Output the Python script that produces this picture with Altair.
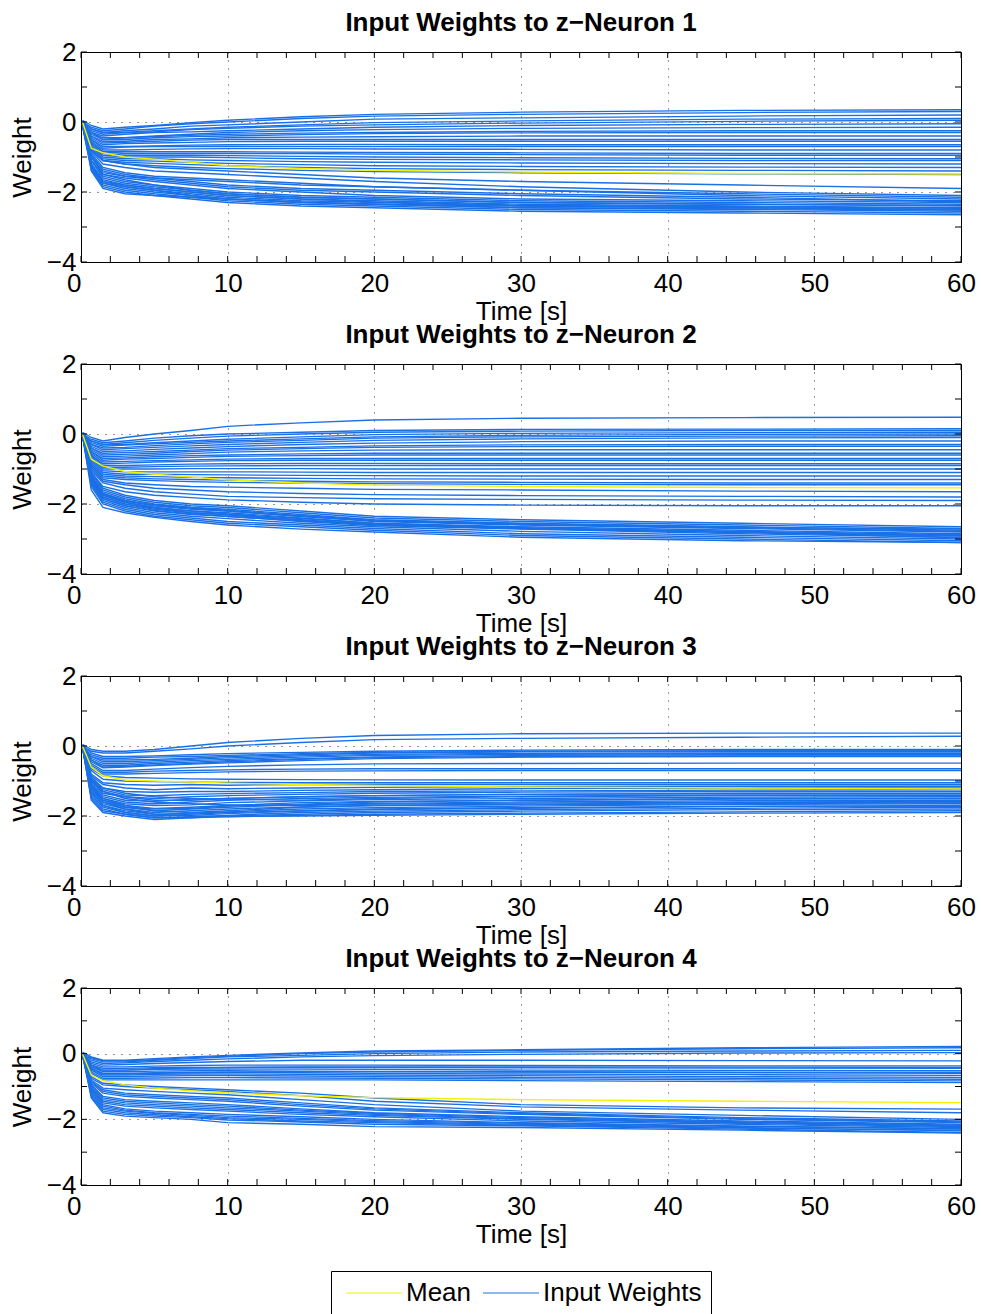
import altair as alt
import pandas as pd

# ---------------- data ----------------
T = [0.1, 0.7, 1.5, 3, 5, 7.5, 10, 15, 20, 30, 45, 60]
X_TICKS = list(range(0, 61, 2))
Y_TICKS = [2, 1, 0, -1, -2, -3, -4]
TITLES = ["Input Weights to z\u2212Neuron 1", "Input Weights to z\u2212Neuron 2",
          "Input Weights to z\u2212Neuron 3", "Input Weights to z\u2212Neuron 4"]

MEAN_1 = [0, -0.75, -0.88, -1.0, -1.06, -1.15, -1.25, -1.33, -1.38, -1.43, -1.47, -1.49]
MEAN_2 = [0, -0.72, -0.92, -1.07, -1.15, -1.23, -1.31, -1.4, -1.46, -1.5, -1.53, -1.54]
MEAN_3 = [0, -0.6, -0.85, -0.97, -1.0, -1.03, -1.06, -1.1, -1.13, -1.17, -1.2, -1.23]
MEAN_4 = [0, -0.65, -0.82, -0.95, -1.05, -1.13, -1.2, -1.28, -1.34, -1.4, -1.45, -1.49]

W1 = [
    [0.05, -0.1, -0.2, -0.15, -0.1, -0.02, 0.05, 0.15, 0.22, 0.28, 0.33, 0.35],
    [0.0, -0.15, -0.25, -0.2, -0.12, -0.05, 0.0, 0.1, 0.17, 0.22, 0.27, 0.3],
    [0.02, -0.2, -0.3, -0.25, -0.2, -0.12, -0.08, 0.0, 0.08, 0.12, 0.17, 0.2],
    [-0.05, -0.25, -0.35, -0.3, -0.25, -0.2, -0.15, -0.08, -0.02, 0.03, 0.08, 0.1],
    [0.0, -0.2, -0.3, -0.3, -0.28, -0.22, -0.18, -0.12, -0.08, -0.03, 0.02, 0.05],
    [-0.05, -0.3, -0.4, -0.35, -0.3, -0.28, -0.25, -0.2, -0.15, -0.1, -0.07, -0.05],
    [0.0, -0.3, -0.45, -0.45, -0.4, -0.35, -0.3, -0.25, -0.22, -0.18, -0.16, -0.15],
    [-0.1, -0.35, -0.5, -0.45, -0.42, -0.38, -0.35, -0.32, -0.3, -0.27, -0.25, -0.25],
    [0.0, -0.3, -0.5, -0.5, -0.45, -0.42, -0.4, -0.36, -0.33, -0.31, -0.3, -0.3],
    [-0.05, -0.4, -0.55, -0.55, -0.5, -0.48, -0.45, -0.43, -0.42, -0.4, -0.4, -0.4],
    [0.0, -0.4, -0.6, -0.58, -0.55, -0.52, -0.5, -0.5, -0.5, -0.5, -0.5, -0.5],
    [-0.1, -0.45, -0.65, -0.62, -0.6, -0.58, -0.56, -0.55, -0.55, -0.55, -0.55, -0.55],
    [0.0, -0.5, -0.7, -0.7, -0.68, -0.66, -0.65, -0.64, -0.64, -0.65, -0.65, -0.65],
    [-0.05, -0.5, -0.75, -0.72, -0.7, -0.7, -0.7, -0.7, -0.7, -0.7, -0.7, -0.7],
    [0.0, -0.55, -0.8, -0.8, -0.78, -0.77, -0.76, -0.76, -0.77, -0.78, -0.8, -0.8],
    [-0.05, -0.6, -0.85, -0.85, -0.85, -0.85, -0.85, -0.86, -0.87, -0.88, -0.9, -0.9],
    [0.0, -0.6, -0.85, -0.9, -0.9, -0.9, -0.9, -0.9, -0.92, -0.93, -0.95, -0.95],
    [-0.05, -0.65, -0.9, -0.95, -0.95, -0.95, -0.96, -0.98, -1.0, -1.02, -1.04, -1.05],
    [0.0, -0.7, -0.95, -1.0, -1.0, -1.0, -1.02, -1.05, -1.07, -1.08, -1.1, -1.1],
    [-0.05, -0.7, -1.0, -1.05, -1.05, -1.08, -1.1, -1.13, -1.15, -1.17, -1.19, -1.2],
    [0.0, -0.75, -1.05, -1.1, -1.12, -1.15, -1.18, -1.22, -1.25, -1.27, -1.29, -1.3],
    [-0.05, -0.8, -1.1, -1.15, -1.18, -1.22, -1.25, -1.3, -1.33, -1.36, -1.38, -1.4],
    [0.0, -0.8, -1.1, -1.2, -1.25, -1.3, -1.33, -1.38, -1.42, -1.45, -1.48, -1.5],
    [-0.1, -0.8, -1.1, -1.2, -1.3, -1.35, -1.4, -1.5, -1.6, -1.7, -1.8, -1.9],
    [-0.05, -0.85, -1.2, -1.3, -1.4, -1.45, -1.5, -1.6, -1.7, -1.85, -2.0, -2.1],
    [-0.1, -0.9, -1.3, -1.45, -1.55, -1.6, -1.65, -1.75, -1.85, -1.95, -2.1, -2.2],
    [0.0, -1.0, -1.4, -1.55, -1.65, -1.75, -1.85, -1.95, -2.0, -2.1, -2.2, -2.25],
    [-0.1, -1.0, -1.5, -1.6, -1.7, -1.8, -1.9, -2.0, -2.1, -2.2, -2.25, -2.3],
    [-0.05, -1.1, -1.55, -1.7, -1.8, -1.9, -2.0, -2.1, -2.15, -2.25, -2.3, -2.35],
    [-0.1, -1.1, -1.6, -1.75, -1.85, -1.95, -2.05, -2.15, -2.2, -2.3, -2.35, -2.4],
    [0.0, -1.2, -1.65, -1.8, -1.9, -2.0, -2.1, -2.2, -2.25, -2.35, -2.4, -2.45],
    [-0.1, -1.2, -1.7, -1.85, -1.95, -2.05, -2.15, -2.25, -2.3, -2.4, -2.45, -2.5],
    [-0.05, -1.25, -1.75, -1.9, -2.0, -2.1, -2.2, -2.3, -2.35, -2.45, -2.5, -2.55],
    [-0.1, -1.3, -1.8, -1.95, -2.05, -2.15, -2.25, -2.35, -2.4, -2.5, -2.55, -2.6],
    [0.0, -1.35, -1.85, -2.0, -2.1, -2.2, -2.3, -2.4, -2.45, -2.55, -2.6, -2.65],
    [-0.1, -1.1, -1.5, -1.65, -1.8, -1.95, -2.05, -2.15, -2.2, -2.3, -2.35, -2.38],
    [-0.05, -1.2, -1.7, -1.8, -1.9, -2.0, -2.1, -2.2, -2.28, -2.38, -2.42, -2.47],
    [-0.1, -1.3, -1.75, -1.85, -1.95, -2.1, -2.2, -2.28, -2.35, -2.45, -2.48, -2.52],
    [0.0, -0.95, -1.35, -1.5, -1.6, -1.7, -1.8, -1.9, -1.95, -2.05, -2.15, -2.28],
    [-0.1, -1.4, -1.9, -2.05, -2.1, -2.15, -2.2, -2.3, -2.35, -2.4, -2.45, -2.5],
    [-0.05, -1.0, -1.45, -1.55, -1.6, -1.65, -1.7, -1.8, -1.85, -1.95, -2.05, -2.15],
]

W2 = [
    [0.05, -0.1, -0.2, -0.1, 0.0, 0.1, 0.22, 0.32, 0.4, 0.45, 0.47, 0.48],
    [0.0, -0.15, -0.25, -0.2, -0.12, -0.05, 0.0, 0.05, 0.1, 0.13, 0.14, 0.15],
    [0.0, -0.2, -0.3, -0.25, -0.18, -0.12, -0.06, 0.0, 0.05, 0.08, 0.1, 0.1],
    [-0.05, -0.2, -0.3, -0.3, -0.25, -0.2, -0.15, -0.08, -0.02, 0.02, 0.04, 0.05],
    [0.0, -0.25, -0.35, -0.32, -0.28, -0.24, -0.2, -0.14, -0.08, -0.04, -0.01, 0.0],
    [-0.05, -0.3, -0.4, -0.38, -0.33, -0.28, -0.24, -0.18, -0.12, -0.08, -0.06, -0.05],
    [0.0, -0.3, -0.45, -0.42, -0.38, -0.34, -0.3, -0.24, -0.18, -0.14, -0.11, -0.1],
    [-0.05, -0.35, -0.5, -0.48, -0.44, -0.4, -0.36, -0.3, -0.26, -0.22, -0.2, -0.2],
    [0.0, -0.4, -0.55, -0.53, -0.5, -0.46, -0.42, -0.38, -0.34, -0.31, -0.3, -0.3],
    [-0.05, -0.4, -0.6, -0.58, -0.55, -0.5, -0.46, -0.42, -0.38, -0.36, -0.35, -0.35],
    [0.0, -0.45, -0.65, -0.63, -0.6, -0.56, -0.52, -0.48, -0.46, -0.45, -0.45, -0.45],
    [-0.05, -0.5, -0.7, -0.68, -0.65, -0.62, -0.6, -0.57, -0.55, -0.55, -0.55, -0.55],
    [0.0, -0.5, -0.75, -0.72, -0.7, -0.67, -0.64, -0.62, -0.6, -0.6, -0.6, -0.6],
    [-0.05, -0.55, -0.8, -0.78, -0.76, -0.74, -0.72, -0.7, -0.7, -0.7, -0.7, -0.7],
    [0.0, -0.6, -0.85, -0.83, -0.8, -0.78, -0.76, -0.75, -0.75, -0.75, -0.75, -0.75],
    [-0.05, -0.6, -0.9, -0.9, -0.88, -0.86, -0.85, -0.84, -0.84, -0.85, -0.85, -0.85],
    [0.0, -0.65, -0.95, -0.95, -0.93, -0.92, -0.91, -0.9, -0.9, -0.9, -0.9, -0.9],
    [-0.05, -0.7, -1.0, -1.0, -1.0, -0.99, -0.99, -0.99, -1.0, -1.0, -1.0, -1.0],
    [0.0, -0.75, -1.05, -1.08, -1.08, -1.08, -1.08, -1.09, -1.1, -1.1, -1.1, -1.1],
    [-0.05, -0.8, -1.1, -1.15, -1.15, -1.16, -1.17, -1.18, -1.19, -1.2, -1.2, -1.2],
    [0.0, -0.85, -1.15, -1.2, -1.22, -1.24, -1.25, -1.27, -1.28, -1.29, -1.3, -1.3],
    [-0.05, -0.9, -1.2, -1.25, -1.28, -1.3, -1.32, -1.35, -1.37, -1.38, -1.4, -1.4],
    [0.0, -0.9, -1.25, -1.3, -1.33, -1.36, -1.38, -1.4, -1.42, -1.44, -1.45, -1.45],
    [-0.05, -0.95, -1.3, -1.4, -1.45, -1.5, -1.52, -1.55, -1.58, -1.6, -1.63, -1.65],
    [0.0, -1.0, -1.35, -1.45, -1.55, -1.6, -1.65, -1.7, -1.73, -1.76, -1.78, -1.8],
    [-0.05, -1.05, -1.4, -1.55, -1.65, -1.72, -1.78, -1.82, -1.85, -1.87, -1.89, -1.9],
    [0.0, -1.1, -1.5, -1.65, -1.75, -1.82, -1.88, -1.95, -2.0, -2.03, -2.05, -2.05],
    [-0.05, -1.1, -1.55, -1.75, -1.9, -2.0, -2.05, -2.2, -2.35, -2.45, -2.55, -2.65],
    [0.0, -1.15, -1.6, -1.8, -1.95, -2.05, -2.1, -2.25, -2.4, -2.5, -2.6, -2.7],
    [-0.05, -1.2, -1.65, -1.85, -2.0, -2.1, -2.15, -2.3, -2.45, -2.55, -2.65, -2.75],
    [0.0, -1.2, -1.7, -1.9, -2.05, -2.15, -2.2, -2.35, -2.5, -2.6, -2.7, -2.8],
    [-0.05, -1.25, -1.75, -1.95, -2.1, -2.2, -2.25, -2.4, -2.55, -2.65, -2.75, -2.85],
    [0.0, -1.3, -1.8, -2.0, -2.15, -2.25, -2.3, -2.45, -2.6, -2.7, -2.8, -2.9],
    [-0.05, -1.35, -1.85, -2.05, -2.2, -2.3, -2.35, -2.5, -2.62, -2.72, -2.85, -2.95],
    [0.0, -1.4, -1.9, -2.1, -2.25, -2.35, -2.42, -2.55, -2.65, -2.78, -2.9, -3.0],
    [-0.05, -1.45, -1.95, -2.15, -2.3, -2.4, -2.5, -2.6, -2.7, -2.85, -2.95, -3.05],
    [0.0, -1.5, -2.0, -2.2, -2.35, -2.45, -2.55, -2.65, -2.75, -2.9, -3.0, -3.1],
    [-0.05, -1.6, -2.1, -2.25, -2.38, -2.5, -2.6, -2.72, -2.8, -2.95, -3.05, -3.1],
    [0.0, -1.3, -1.75, -1.95, -2.1, -2.2, -2.28, -2.42, -2.55, -2.68, -2.78, -2.88],
    [-0.05, -1.2, -1.7, -1.9, -2.05, -2.12, -2.2, -2.36, -2.48, -2.58, -2.68, -2.78],
    [0.0, -1.4, -1.85, -2.05, -2.18, -2.28, -2.36, -2.48, -2.58, -2.7, -2.82, -2.92],
    [-0.05, -1.25, -1.72, -1.92, -2.02, -2.1, -2.18, -2.33, -2.46, -2.56, -2.66, -2.72],
    [0.0, -1.35, -1.8, -2.0, -2.12, -2.25, -2.32, -2.46, -2.57, -2.68, -2.8, -2.97],
]

W3 = [
    [0.05, -0.1, -0.15, -0.15, -0.1, 0.0, 0.1, 0.22, 0.3, 0.35, 0.37, 0.37],
    [0.0, -0.15, -0.2, -0.2, -0.15, -0.08, 0.0, 0.1, 0.18, 0.22, 0.25, 0.28],
    [0.0, -0.2, -0.3, -0.3, -0.28, -0.25, -0.22, -0.18, -0.15, -0.12, -0.1, -0.1],
    [-0.05, -0.25, -0.35, -0.35, -0.32, -0.3, -0.27, -0.22, -0.18, -0.15, -0.13, -0.13],
    [0.0, -0.3, -0.4, -0.4, -0.38, -0.35, -0.3, -0.25, -0.2, -0.17, -0.16, -0.16],
    [-0.05, -0.3, -0.45, -0.45, -0.42, -0.38, -0.34, -0.28, -0.24, -0.21, -0.2, -0.2],
    [0.0, -0.35, -0.5, -0.5, -0.46, -0.42, -0.38, -0.32, -0.27, -0.24, -0.22, -0.22],
    [-0.05, -0.4, -0.55, -0.55, -0.5, -0.46, -0.42, -0.36, -0.31, -0.27, -0.25, -0.25],
    [0.0, -0.4, -0.6, -0.58, -0.54, -0.5, -0.45, -0.38, -0.33, -0.3, -0.28, -0.28],
    [-0.05, -0.45, -0.62, -0.6, -0.56, -0.52, -0.48, -0.42, -0.36, -0.32, -0.3, -0.3],
    [0.0, -0.5, -0.7, -0.7, -0.66, -0.62, -0.58, -0.54, -0.51, -0.5, -0.49, -0.49],
    [-0.05, -0.55, -0.75, -0.75, -0.72, -0.7, -0.68, -0.66, -0.65, -0.65, -0.65, -0.65],
    [0.0, -0.6, -0.8, -0.8, -0.78, -0.76, -0.74, -0.72, -0.71, -0.7, -0.7, -0.7],
    [-0.05, -0.65, -0.85, -0.9, -0.92, -0.94, -0.95, -0.96, -0.97, -0.97, -0.97, -0.97],
    [0.0, -0.7, -0.95, -1.0, -1.02, -1.03, -1.04, -1.05, -1.05, -1.05, -1.05, -1.05],
    [-0.05, -0.8, -1.05, -1.1, -1.12, -1.1, -1.12, -1.1, -1.1, -1.1, -1.1, -1.1],
    [0.0, -0.85, -1.1, -1.2, -1.25, -1.2, -1.22, -1.2, -1.18, -1.16, -1.15, -1.15],
    [-0.05, -0.9, -1.2, -1.3, -1.32, -1.3, -1.3, -1.27, -1.25, -1.22, -1.2, -1.2],
    [0.0, -0.95, -1.25, -1.4, -1.42, -1.38, -1.36, -1.33, -1.3, -1.28, -1.26, -1.25],
    [-0.05, -1.0, -1.35, -1.45, -1.5, -1.45, -1.42, -1.38, -1.35, -1.32, -1.3, -1.3],
    [0.0, -1.05, -1.4, -1.55, -1.58, -1.52, -1.5, -1.45, -1.42, -1.38, -1.35, -1.35],
    [-0.05, -1.1, -1.45, -1.6, -1.65, -1.6, -1.55, -1.5, -1.47, -1.43, -1.4, -1.4],
    [0.0, -1.15, -1.5, -1.65, -1.7, -1.68, -1.62, -1.57, -1.53, -1.5, -1.46, -1.45],
    [-0.05, -1.2, -1.55, -1.7, -1.78, -1.75, -1.7, -1.62, -1.58, -1.55, -1.5, -1.5],
    [0.0, -1.25, -1.6, -1.75, -1.85, -1.8, -1.75, -1.68, -1.64, -1.6, -1.56, -1.55],
    [-0.05, -1.3, -1.65, -1.8, -1.9, -1.85, -1.8, -1.74, -1.7, -1.66, -1.62, -1.6],
    [0.0, -1.35, -1.7, -1.85, -1.95, -1.92, -1.88, -1.8, -1.76, -1.72, -1.67, -1.65],
    [-0.05, -1.4, -1.75, -1.9, -2.0, -1.98, -1.93, -1.86, -1.82, -1.78, -1.73, -1.7],
    [0.0, -1.45, -1.8, -1.95, -2.05, -2.02, -1.98, -1.9, -1.86, -1.82, -1.78, -1.75],
    [-0.05, -1.5, -1.85, -1.95, -2.05, -2.05, -2.0, -1.95, -1.9, -1.86, -1.82, -1.8],
    [0.0, -1.55, -1.9, -2.0, -2.1, -2.05, -2.02, -1.98, -1.95, -1.92, -1.88, -1.85],
    [-0.05, -1.2, -1.6, -1.8, -1.95, -2.0, -2.02, -2.0, -1.98, -1.95, -1.92, -1.9],
    [0.0, -1.0, -1.3, -1.5, -1.6, -1.65, -1.68, -1.7, -1.66, -1.63, -1.6, -1.58],
    [-0.05, -0.9, -1.2, -1.35, -1.45, -1.5, -1.52, -1.55, -1.5, -1.45, -1.42, -1.42],
    [0.0, -1.1, -1.5, -1.7, -1.85, -1.9, -1.85, -1.75, -1.7, -1.68, -1.65, -1.62],
    [-0.05, -1.3, -1.7, -1.9, -2.0, -1.95, -1.9, -1.85, -1.8, -1.76, -1.72, -1.72],
    [0.0, -0.95, -1.3, -1.45, -1.55, -1.55, -1.5, -1.45, -1.42, -1.38, -1.36, -1.36],
    [-0.05, -1.15, -1.55, -1.75, -1.8, -1.78, -1.72, -1.66, -1.6, -1.55, -1.52, -1.5],
]

W4 = [
    [0.05, -0.1, -0.2, -0.2, -0.15, -0.1, -0.05, 0.02, 0.08, 0.12, 0.18, 0.22],
    [0.0, -0.12, -0.22, -0.22, -0.18, -0.12, -0.08, 0.0, 0.05, 0.1, 0.15, 0.18],
    [-0.05, -0.15, -0.25, -0.25, -0.2, -0.15, -0.1, -0.05, 0.0, 0.05, 0.08, 0.1],
    [0.0, -0.2, -0.3, -0.28, -0.24, -0.2, -0.16, -0.1, -0.06, -0.02, 0.02, 0.03],
    [-0.05, -0.25, -0.35, -0.33, -0.3, -0.27, -0.24, -0.2, -0.2, -0.2, -0.21, -0.22],
    [0.0, -0.3, -0.4, -0.4, -0.38, -0.36, -0.35, -0.35, -0.35, -0.36, -0.37, -0.37],
    [-0.05, -0.35, -0.45, -0.45, -0.43, -0.42, -0.42, -0.42, -0.42, -0.43, -0.44, -0.45],
    [0.0, -0.4, -0.5, -0.5, -0.48, -0.47, -0.47, -0.47, -0.48, -0.5, -0.51, -0.52],
    [-0.05, -0.4, -0.55, -0.55, -0.53, -0.52, -0.52, -0.53, -0.54, -0.56, -0.58, -0.6],
    [0.0, -0.45, -0.6, -0.6, -0.58, -0.57, -0.57, -0.58, -0.6, -0.62, -0.64, -0.66],
    [-0.05, -0.5, -0.65, -0.65, -0.63, -0.62, -0.62, -0.63, -0.65, -0.67, -0.7, -0.72],
    [0.0, -0.5, -0.7, -0.7, -0.68, -0.67, -0.67, -0.68, -0.7, -0.72, -0.75, -0.78],
    [-0.05, -0.55, -0.75, -0.75, -0.74, -0.73, -0.73, -0.74, -0.75, -0.77, -0.8, -0.83],
    [0.0, -0.6, -0.8, -0.8, -0.8, -0.8, -0.8, -0.8, -0.8, -0.82, -0.85, -0.88],
    [-0.05, -0.45, -0.62, -0.62, -0.6, -0.58, -0.56, -0.55, -0.55, -0.55, -0.56, -0.57],
    [0.0, -0.35, -0.5, -0.5, -0.46, -0.44, -0.42, -0.4, -0.4, -0.4, -0.41, -0.42],
    [-0.05, -0.7, -0.9, -0.95, -1.0, -1.05, -1.1, -1.2, -1.35, -1.55, -1.65, -1.69],
    [0.0, -0.75, -0.95, -1.0, -1.05, -1.1, -1.15, -1.28, -1.45, -1.62, -1.72, -1.8],
    [-0.05, -0.8, -1.05, -1.1, -1.15, -1.2, -1.25, -1.4, -1.55, -1.75, -1.88, -2.0],
    [0.0, -0.85, -1.1, -1.2, -1.25, -1.3, -1.35, -1.5, -1.65, -1.8, -1.95, -2.05],
    [-0.05, -0.9, -1.2, -1.3, -1.35, -1.4, -1.45, -1.6, -1.72, -1.85, -2.0, -2.1],
    [0.0, -0.95, -1.3, -1.4, -1.45, -1.5, -1.55, -1.68, -1.8, -1.92, -2.05, -2.15],
    [-0.05, -1.0, -1.4, -1.5, -1.55, -1.6, -1.65, -1.75, -1.85, -1.98, -2.1, -2.2],
    [0.0, -1.05, -1.5, -1.6, -1.65, -1.7, -1.75, -1.85, -1.92, -2.05, -2.15, -2.25],
    [-0.05, -1.1, -1.55, -1.68, -1.75, -1.8, -1.85, -1.92, -2.0, -2.1, -2.2, -2.3],
    [0.0, -1.2, -1.65, -1.75, -1.82, -1.88, -1.95, -2.0, -2.07, -2.15, -2.25, -2.35],
    [-0.05, -1.3, -1.75, -1.85, -1.9, -1.95, -2.02, -2.08, -2.15, -2.2, -2.3, -2.4],
    [0.0, -1.35, -1.8, -1.9, -1.95, -2.0, -2.1, -2.15, -2.22, -2.25, -2.33, -2.42],
    [-0.05, -1.15, -1.6, -1.72, -1.8, -1.85, -1.9, -1.97, -2.04, -2.12, -2.22, -2.28],
    [0.0, -0.95, -1.35, -1.45, -1.5, -1.55, -1.6, -1.72, -1.82, -1.95, -2.08, -2.18],
    [-0.05, -1.25, -1.7, -1.8, -1.86, -1.92, -1.98, -2.05, -2.1, -2.18, -2.27, -2.33],
    [0.0, -0.85, -1.15, -1.25, -1.3, -1.35, -1.4, -1.55, -1.68, -1.83, -1.98, -2.08],
    [-0.05, -1.05, -1.45, -1.55, -1.6, -1.65, -1.7, -1.8, -1.88, -2.0, -2.12, -2.22],
]

# ---------------- styling ----------------
BLUE = "#1a70e6"
YELLOW = "#f4f000"
FONT = "Liberation Sans"
W = 880
# legend sample: a long thin stroke drawn from a small symbol
LEG_PATH = "M-1,0H7"


def panel(title, lines, mean, height, with_legend):
    rows = []
    for i, vals in enumerate(lines):
        for t, v in zip(T, vals):
            rows.append({"t": t, "w": v, "id": i, "series": "Input Weights"})
    df = pd.DataFrame(rows)
    dm = pd.DataFrame({"t": T, "w": mean, "series": ["Mean"] * len(T)})
    xt = pd.DataFrame({"t": X_TICKS})
    yt = pd.DataFrame({"w": Y_TICKS})

    ax_x = alt.Axis(values=[0, 10, 20, 30, 40, 50, 60], labelFlush=False,
                    labelAlign={"expr": "datum.value === 0 ? 'right' : 'center'"})
    ax_y = alt.Axis(values=[2, 0, -2, -4])
    x_enc = alt.X("t:Q", title="Time [s]", axis=ax_x,
                  scale=alt.Scale(domain=[0, 60], nice=False, zero=False))
    y_enc = alt.Y("w:Q", title="Weight", axis=ax_y,
                  scale=alt.Scale(domain=[-4, 2], nice=False, zero=False))

    if with_legend:
        cscale = alt.Scale(domain=["Mean", "Input Weights"], range=[YELLOW, BLUE])
        leg = alt.Legend(title=None, orient="none", legendX=250, legendY=283,
                         direction="horizontal", columns=2, symbolType=LEG_PATH,
                         symbolSize=196, symbolStrokeWidth=1.2, labelFont=FONT,
                         labelFontSize=26, labelColor="black", strokeColor="black",
                         fillColor="white", padding=9, columnPadding=5,
                         labelOffset=40, cornerRadius=0, labelLimit=400)
        c_blue = alt.Color("series:N", scale=cscale, legend=leg)
        c_mean = alt.Color("series:N", scale=cscale, legend=leg)
    else:
        c_blue = alt.value(BLUE)
        c_mean = alt.value(YELLOW)

    blue = alt.Chart(df).mark_line(strokeWidth=1.35, clip=True).encode(
        x=x_enc, y=y_enc, detail="id:N", color=c_blue)
    mline = alt.Chart(dm).mark_line(strokeWidth=1.4, clip=True).encode(
        x=x_enc, y=y_enc, color=c_mean)
    tick_top = alt.Chart(xt).mark_rule(color="black").encode(
        x=x_enc, y=alt.value(0), y2=alt.value(6))
    tick_bot = alt.Chart(xt).mark_rule(color="black").encode(
        x=x_enc, y=alt.value(height), y2=alt.value(height - 6))
    tick_l = alt.Chart(yt).mark_rule(color="black").encode(
        y=y_enc, x=alt.value(0), x2=alt.value(6))
    tick_r = alt.Chart(yt).mark_rule(color="black").encode(
        y=y_enc, x=alt.value(W - 6), x2=alt.value(W))

    return alt.layer(blue, mline, tick_top, tick_bot, tick_l, tick_r).properties(
        width=W, height=height,
        title=alt.TitleParams(title, fontSize=26, fontWeight="bold", font=FONT,
                              color="black", offset=3))


chart = alt.vconcat(
    panel(TITLES[0], W1, MEAN_1, 210, False),
    panel(TITLES[1], W2, MEAN_2, 210, False),
    panel(TITLES[2], W3, MEAN_3, 210, False),
    panel(TITLES[3], W4, MEAN_4, 197, True),
    spacing=-4,
).resolve_scale(color="independent").resolve_legend(color="independent").properties(
    padding={"left": 8, "top": 9, "right": 0, "bottom": 0}
).configure(font=FONT, background="white").configure_axis(
    labelFontSize=26, titleFontSize=26, titleFontWeight="normal", labelFont=FONT,
    titleFont=FONT, labelColor="black", titleColor="black", domainColor="black",
    ticks=False, grid=True, gridColor="black", gridDash=[1, 7], gridOpacity=0.8,
    labelPadding=8
).configure_axisX(titlePadding=2).configure_axisY(titlePadding=11, labelPadding=5).configure_view(
    stroke="black", strokeWidth=1
)

chart.save("out.html", embed_options={"renderer": "svg", "actions": False})
